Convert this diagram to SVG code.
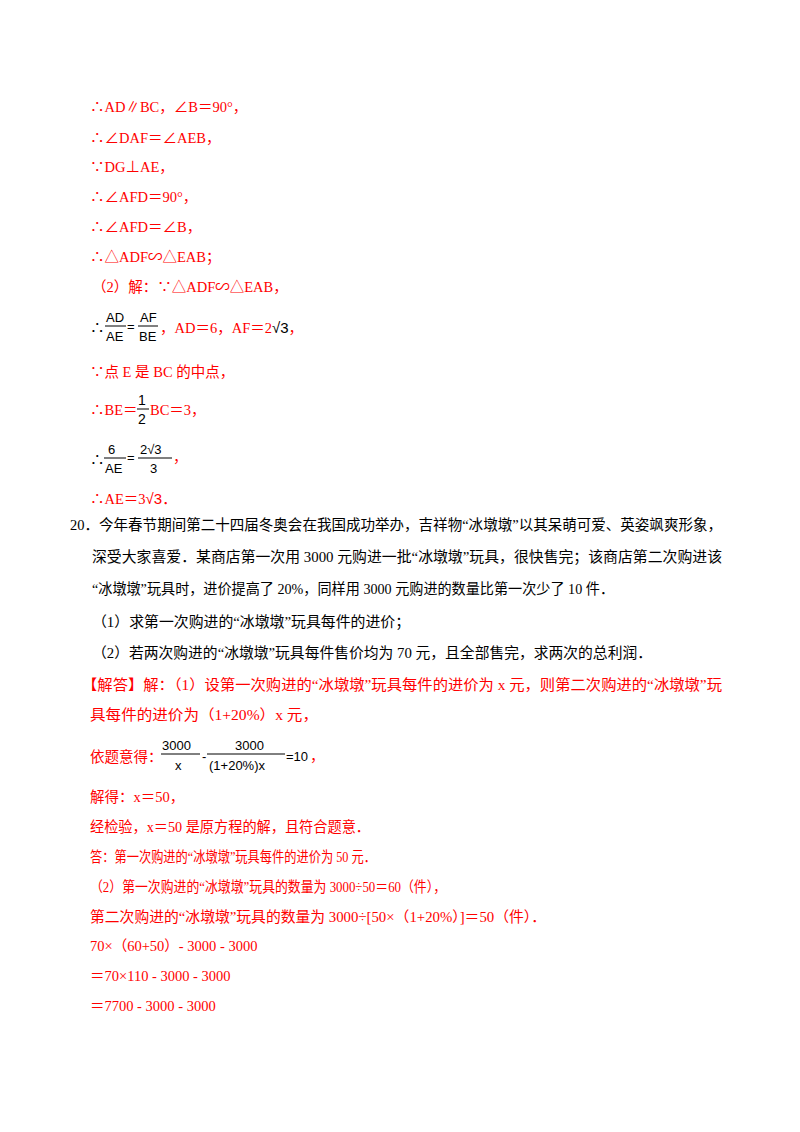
<svg xmlns="http://www.w3.org/2000/svg" width="800" height="1132" viewBox="0 0 800 1132">
<style>
text{font-family:"Liberation Serif","Noto Sans CJK SC",serif;font-size:14.5px}
.r{fill:#ff0000}
.k{fill:#000}
.m{font-family:"Liberation Sans","Noto Sans CJK SC",sans-serif;font-size:13px;fill:#000}
line{stroke:#000;stroke-width:1}
</style>
<rect width="800" height="1132" fill="#fff"/>
<g class="r">
<text x="90" y="112" class="r">∴AD∥BC，∠B＝90°，</text>
<text x="90" y="143" class="r">∴∠DAF＝∠AEB，</text>
<text x="90" y="172" class="r">∵DG⊥AE，</text>
<text x="90" y="202" class="r">∴∠AFD＝90°，</text>
<text x="90" y="232" class="r">∴∠AFD＝∠B，</text>
<text x="90" y="262" class="r">∴△ADF∽△EAB；</text>
<text x="92" y="292" class="r">（2）解：∵△ADF∽△EAB，</text>
<text x="90" y="333" class="k">∴</text>
<text x="106" y="322" class="m">AD</text><line x1="105" y1="326" x2="126" y2="326"/><text x="106" y="341" class="m">AE</text>
<text x="127" y="331" class="m">=</text>
<text x="140" y="322" class="m">AF</text><line x1="138" y1="326" x2="158" y2="326"/><text x="139" y="341" class="m">BE</text>
<text x="160" y="333" class="r">，AD＝6，AF＝2<tspan style="font-family:'Liberation Sans',sans-serif;fill:#000;font-size:15px">√3</tspan>，</text>
<text x="90" y="377" class="r">∵点 E 是 BC 的中点，</text>
<text x="90" y="415" class="r">∴BE＝</text>
<text x="138" y="405" class="m" style="font-size:14px">1</text><line x1="137" y1="409" x2="149" y2="409"/><text x="138" y="424" class="m" style="font-size:14px">2</text>
<text x="150" y="415" class="r">BC＝3，</text>
<text x="90" y="465" class="k">∴</text>
<text x="108" y="454" class="m">6</text><line x1="104" y1="458" x2="126" y2="458"/><text x="105" y="473" class="m">AE</text>
<text x="127" y="462" class="m">=</text>
<text x="140" y="454" class="m">2√3</text><line x1="138" y1="458" x2="172" y2="458"/><text x="150" y="473" class="m">3</text>
<text x="173" y="462" class="r">，</text>
<text x="90" y="504" class="r">∴AE＝3<tspan style="font-family:'Liberation Sans',sans-serif;font-size:15px">√3</tspan>．</text>
</g>
<g>
<text x="70" y="530" class="k" textLength="652" lengthAdjust="spacingAndGlyphs">20．今年春节期间第二十四届冬奥会在我国成功举办，吉祥物“冰墩墩”以其呆萌可爱、英姿飒爽形象，</text>
<text x="92" y="562" class="k" textLength="630" lengthAdjust="spacingAndGlyphs">深受大家喜爱．某商店第一次用 3000 元购进一批“冰墩墩”玩具，很快售完；该商店第二次购进该</text>
<text x="92" y="594" class="k" textLength="522" lengthAdjust="spacingAndGlyphs">“冰墩墩”玩具时，进价提高了 20%，同样用 3000 元购进的数量比第一次少了 10 件．</text>
<text x="92" y="627" class="k" textLength="318" lengthAdjust="spacingAndGlyphs">（1）求第一次购进的“冰墩墩”玩具每件的进价；</text>
<text x="92" y="658" class="k" textLength="560" lengthAdjust="spacingAndGlyphs">（2）若两次购进的“冰墩墩”玩具每件售价均为 70 元，且全部售完，求两次的总利润．</text>
<text x="82" y="690" class="r" textLength="640" lengthAdjust="spacingAndGlyphs">【解答】解：（1）设第一次购进的“冰墩墩”玩具每件的进价为 x 元，则第二次购进的“冰墩墩”玩</text>
<text x="90" y="720" class="r" textLength="228" lengthAdjust="spacingAndGlyphs">具每件的进价为（1+20%）x 元，</text>
<text x="90" y="762" class="r">依题意得：</text>
<text x="162" y="750" class="m">3000</text><line x1="161" y1="754" x2="200" y2="754"/><text x="175" y="770" class="m">x</text>
<text x="202" y="761" class="m">-</text>
<text x="235" y="750" class="m">3000</text><line x1="207" y1="754" x2="285" y2="754"/><text x="209" y="770" class="m">(1+20%)x</text>
<text x="286" y="761" class="m">=10</text>
<text x="310" y="761" class="r">，</text>
<text x="90" y="802" class="r">解得：x＝50，</text>
<text x="90" y="832" class="r" textLength="280" lengthAdjust="spacingAndGlyphs">经检验，x＝50 是原方程的解，且符合题意．</text>
<text x="90" y="862" class="r" textLength="286" lengthAdjust="spacingAndGlyphs">答：第一次购进的“冰墩墩”玩具每件的进价为 50 元．</text>
<text x="90" y="892" class="r" textLength="356" lengthAdjust="spacingAndGlyphs">（2）第一次购进的“冰墩墩”玩具的数量为 3000÷50＝60（件），</text>
<text x="90" y="922" class="r" textLength="456" lengthAdjust="spacingAndGlyphs">第二次购进的“冰墩墩”玩具的数量为 3000÷[50×（1+20%）]＝50（件）．</text>
<text x="90" y="951" class="r">70×（60+50）- 3000 - 3000</text>
<text x="90" y="981" class="r">＝70×110 - 3000 - 3000</text>
<text x="90" y="1011" class="r">＝7700 - 3000 - 3000</text>
</g>
</svg>
